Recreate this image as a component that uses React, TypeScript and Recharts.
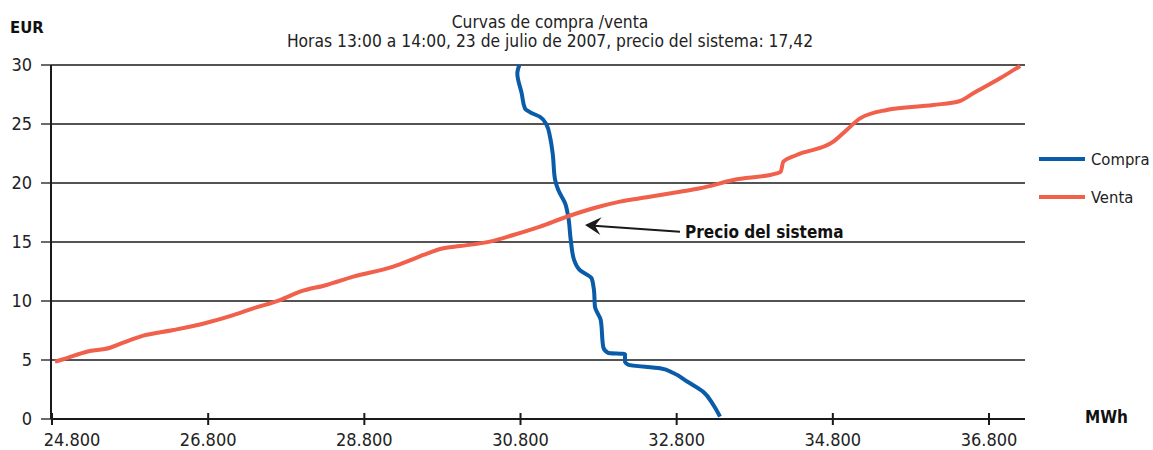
import React from 'react';
import { LineChart, Line, XAxis, YAxis, CartesianGrid, ReferenceLine } from 'recharts';

const FONT = '"Liberation Sans Narrow", "Arial Narrow", "DejaVu Sans Condensed", sans-serif';
const BLUE = '#0b5ca8';
const RED = '#f0604b';
const INK = '#1a1a1a';

const eurTicks = [0, 5, 10, 15, 20, 25, 30];
const mwhTicks = [24800, 26800, 28800, 30800, 32800, 34800, 36800];

const seriesNames = ['Compra', 'Venta'];
const seriesColors = [BLUE, RED];

// Compra (demand), listed from the bottom of the curve upwards
const compraMwh = [
  33355, 33269, 33141, 32928, 32757, 32587, 32181, 32138, 32138, 31924, 31860, 31827, 31754,
  31741, 31712, 31562, 31485, 31443, 31412, 31370, 31284, 31242, 31212, 31178, 31136, 31050,
  30922, 30858, 30815, 30759, 30785,
];
const compraEur = [
  0.2, 1.2, 2.3, 3.2, 3.9, 4.3, 4.6, 4.9, 5.5, 5.6, 6.1, 8.4, 9.5, 10.9, 11.9, 12.6, 13.5, 15.2,
  17.1, 18.3, 19.4, 20.3, 22.5, 23.9, 24.9, 25.6, 26.0, 26.3, 27.6, 29.3, 30.0,
];

// Venta (supply)
const ventaMwh = [
  24838, 24945, 25244, 25543, 25713, 25969, 26353, 26781, 27122, 27378, 27720, 27976, 28318,
  28659, 29171, 29343, 29555, 29811, 30025, 30409, 30708, 31050, 31392, 31733, 32074, 32416,
  32843, 33099, 33526, 34081, 34132, 34166, 34336, 34806, 34977, 35148, 35490, 36087, 36429,
  36599, 36941, 37198,
];
const ventaEur = [
  4.86, 5.06, 5.7, 6.04, 6.47, 7.06, 7.54, 8.16, 8.81, 9.38, 10.08, 10.79, 11.36, 12.06, 12.91,
  13.33, 13.9, 14.47, 14.66, 15.03, 15.59, 16.3, 17.14, 17.86, 18.42, 18.79, 19.26, 19.55, 20.25,
  20.82, 20.96, 21.81, 22.37, 23.5, 24.49, 25.48, 26.19, 26.61, 26.95, 27.6, 28.87, 29.92,
];

// arrow tip and tail of the system price note
const arrowMwh = [31626, 32843];
const arrowEur = [16.44, 15.87];

const compra = compraMwh.map((mwh, i) => ({ mwh, eur: compraEur[i] }));
const venta = ventaMwh.map((mwh, i) => ({ mwh, eur: ventaEur[i] }));

function formatMwh(v: number) {
  return `${Math.floor(v / 1000)}.${String(v % 1000).padStart(3, '0')}`;
}

function MwhTick(props: any) {
  const { x, y, payload, index } = props;
  return (
    <g>
      <line x1={x} x2={x} y1={y - 6} y2={y + 6} stroke={INK} strokeWidth={2} />
      <text
        x={x + (index === 0 ? 20 : 0)}
        y={y + 27}
        textAnchor="middle"
        fontSize={18}
        fontFamily={FONT}
        fill="#222"
      >
        {formatMwh(payload.value)}
      </text>
    </g>
  );
}

function PriceArrow(props: any) {
  const { x1, y1, x2, y2 } = props;
  const ang = Math.atan2(y2 - y1, x2 - x1);
  const pt = (d: number, off: number) => [
    x1 + d * Math.cos(ang) - off * Math.sin(ang),
    y1 + d * Math.sin(ang) + off * Math.cos(ang),
  ];
  const head = [pt(0, 0), pt(16, -9), pt(10, 0), pt(16, 9)];
  const start = pt(9, 0);
  return (
    <g>
      <line x1={start[0]} y1={start[1]} x2={x2} y2={y2} stroke={INK} strokeWidth={2} />
      <polygon points={head.map((p) => p.join(',')).join(' ')} fill={INK} />
      <text x={x2 + 5} y={y2 + 6} fontSize={17} fontWeight="bold" fontFamily={FONT} fill="#111">
        Precio del sistema
      </text>
    </g>
  );
}

export default function App() {
  return (
    <div style={{ position: 'absolute', left: 0, top: 0, width: 1153, height: 450, background: '#fff' }}>
      <LineChart width={1153} height={450} margin={{ top: 65, right: 128, bottom: 0, left: 0 }}>
        <CartesianGrid horizontal vertical={false} stroke={INK} strokeWidth={1.3} />
        <XAxis
          type="number"
          dataKey="mwh"
          domain={[24787, 37261]}
          ticks={mwhTicks}
          allowDataOverflow
          height={31}
          tickSize={0}
          tickMargin={0}
          tickLine={false}
          axisLine={{ stroke: INK, strokeWidth: 2 }}
          tick={<MwhTick />}
        />
        <YAxis
          type="number"
          dataKey="eur"
          domain={[0, 30]}
          ticks={eurTicks}
          width={51}
          tickSize={10}
          tickMargin={9}
          axisLine={{ stroke: INK, strokeWidth: 2 }}
          tickLine={{ stroke: INK, strokeWidth: 1.3 }}
          tick={{ fontSize: 18, fontFamily: FONT, fill: '#222' }}
        />
        <Line
          data={compra}
          dataKey="eur"
          name={seriesNames[0]}
          type="monotoneY"
          stroke={seriesColors[0]}
          strokeWidth={4}
          dot={false}
          isAnimationActive={false}
        />
        <Line
          data={venta}
          dataKey="eur"
          name={seriesNames[1]}
          type="monotone"
          stroke={seriesColors[1]}
          strokeWidth={4}
          dot={false}
          isAnimationActive={false}
        />
        <ReferenceLine
          segment={[
            { x: arrowMwh[0], y: arrowEur[0] },
            { x: arrowMwh[1], y: arrowEur[1] },
          ]}
          ifOverflow="visible"
          shape={<PriceArrow />}
        />
      </LineChart>
      <svg
        width={1153}
        height={450}
        style={{ position: 'absolute', left: 0, top: 0, pointerEvents: 'none' }}
      >
        <text x={550} y={28} textAnchor="middle" fontSize={17.3} fontFamily={FONT} fill="#222">
          Curvas de compra /venta
        </text>
        <text x={550} y={47} textAnchor="middle" fontSize={17.3} fontFamily={FONT} fill="#222">
          Horas 13:00 a 14:00, 23 de julio de 2007, precio del sistema: 17,42
        </text>
        <text x={10} y={33} fontSize={16.5} fontWeight="bold" fontFamily={FONT} fill="#111">
          EUR
        </text>
        <text x={1085} y={423} fontSize={17} fontWeight="bold" fontFamily={FONT} fill="#111">
          MWh
        </text>
        {seriesNames.map((name, i) => (
          <g key={name}>
            <line x1={1039} x2={1085} y1={159 + i * 38} y2={159 + i * 38} stroke={seriesColors[i]} strokeWidth={4} />
            <text x={1091} y={165 + i * 38} fontSize={16.5} fontFamily={FONT} fill="#222">
              {name}
            </text>
          </g>
        ))}
      </svg>
    </div>
  );
}
